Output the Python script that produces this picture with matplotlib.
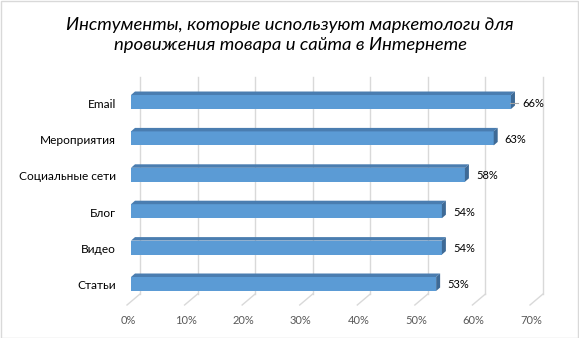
import matplotlib
matplotlib.use("Agg")
import matplotlib.pyplot as plt
from matplotlib.patches import Polygon, Rectangle

categories = ["Статьи", "Видео", "Блог", "Социальные сети", "Мероприятия", "Email"]
values = [53, 54, 54, 58, 63, 66]
xticks = [0, 10, 20, 30, 40, 50, 60, 70]
xtick_labels = ["0%", "10%", "20%", "30%", "40%", "50%", "60%", "70%"]
title = "Инстументы, которые используют маркетологи для\nпровижения товара и сайта в Интернете"

W, H = 579, 338
fig = plt.figure(figsize=(W / 100, H / 100), dpi=100)
fig.patch.set_facecolor("white")

# axes geometry (pixels from top-left)
x0_px, x70_px = 131, 534
ytop_px, ybot_px = 77, 305
ylo, yhi = -0.577, 5.687
ax = fig.add_axes([x0_px / W, (H - ybot_px) / H, (x70_px - x0_px) / W, (ybot_px - ytop_px) / H])
ax.set_xlim(0, 70)
ax.set_ylim(ylo, yhi)
ax.axis("off")

px_x = 70 / (x70_px - x0_px)
px_y = (yhi - ylo) / (ybot_px - ytop_px)

grid_c = "#D9D9D9"
# gridlines: back vertical + floor diagonal
for k in xticks:
    xb = k + 9 * px_x
    xf = k - 4 * px_x
    y_back = ylo + (ybot_px - 294) * px_y
    ax.plot([xb, xb], [y_back, yhi], color=grid_c, lw=1.0, zorder=1, clip_on=False)
    ax.plot([xb, xf], [y_back, ylo], color=grid_c, lw=1.0, zorder=1, clip_on=False)

# bars
bh = 14 * px_y
ddx, ddy = 4 * px_x, 3.5 * px_y
front_c = "#5B9BD5"
top_c = "#4A7DB0"
side_c = "#3E6A96"
for i, v in enumerate(values):
    ax.barh(i, v, height=bh, color=front_c, zorder=3, edgecolor="none")
    yt = i + bh / 2
    yb = i - bh / 2
    top = Polygon([[0, yt], [v, yt], [v + ddx, yt + ddy], [ddx, yt + ddy]],
                  closed=True, facecolor=top_c, edgecolor="none", zorder=3)
    side = Polygon([[v, yb], [v, yt], [v + ddx, yt + ddy], [v + ddx, yb + ddy]],
                   closed=True, facecolor=side_c, edgecolor="none", zorder=3)
    ax.add_patch(top)
    ax.add_patch(side)
    # value label
    ax.text(v + 11 * px_x, i - 1 * px_y, f"{v}%", ha="left", va="center",
            fontsize=8, family="Lato", color="#000000", zorder=4)
    # category label
    ax.text(-15 * px_x, i - 2 * px_y, categories[i], ha="right", va="center",
            fontsize=8.6, family="Lato", color="#000000", clip_on=False)

# small leader for Email label
ie = len(values) - 1
ax.plot([values[ie] - 0.2, values[ie] + 7 * px_x], [ie - 0.7 * px_y] * 2,
        color="#A6A6A6", lw=0.8, zorder=4)

# tick labels
for k, lab in zip(xticks, xtick_labels):
    ax.text(k - 3 * px_x, ylo - 15 * px_y, lab, ha="center", va="center",
            fontsize=8, family="Lato", color="#595959", clip_on=False)

fig.text(290 / W, 1 - 35 / H, title, ha="center", va="center", fontsize=13.3,
         family="Lato", style="italic", color="#000000", linespacing=1.3)

# chart border
fig.patches.append(Rectangle((0.5 / W, 0.5 / H), (W - 2) / W, (H - 1.5) / H,
                             transform=fig.transFigure, fill=False,
                             edgecolor="#D9D9D9", lw=1.0))

fig.savefig("out.png", dpi=100, facecolor="white")
